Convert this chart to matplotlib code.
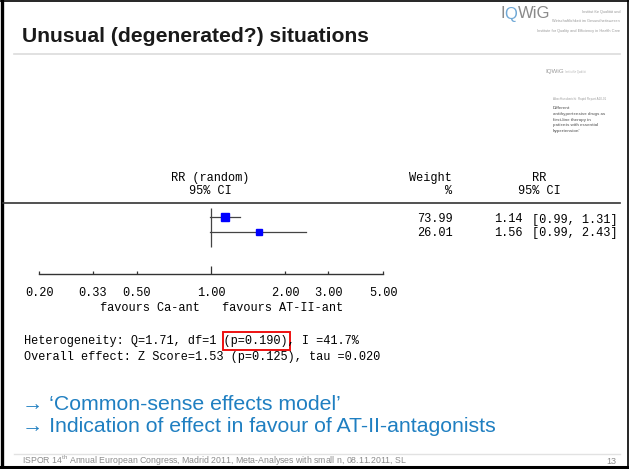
import matplotlib.pyplot as plt
from matplotlib.patches import Rectangle

W, H = 629, 469

# forest plot data (two studies, RR random effects)
weights = [73.99, 26.01]
rr = [1.14, 1.56]
ci_lo = [0.99, 0.99]
ci_hi = [1.31, 2.43]

minor_ticks = [0.20, 0.33, 0.50, 2.00, 3.00, 5.00]
minor_labels = ["0.20", "0.33", "0.50", "2.00", "3.00", "5.00"]
null_tick = 1.00

het_text = "Heterogeneity: Q=1.71, df=1 (p=0.190), I =41.7%"
overall_text = "Overall effect: Z Score=1.53 (p=0.125), tau =0.020"

title = "Unusual (degenerated?) situations"
bullets = ["\u2192 \u2018Common-sense effects model\u2019",
           "\u2192 Indication of effect in favour of AT-II-antagonists"]
footer = r"ISPOR 14$^{\mathregular{th}}$ Annual European Congress, Madrid 2011, Meta-Analyses with small n, 08.11.2011, SL"
page = "13"

SANS = ["Liberation Sans", "DejaVu Sans"]
MONO = ["Liberation Mono", "DejaVu Sans Mono"]
BLUE = "#1f7fc1"
FS = 8.6  # forest plot font size

fig = plt.figure(figsize=(W / 100, H / 100), dpi=100)

# slide canvas in pixel coordinates
ax = fig.add_axes([0, 0, 1, 1])
ax.set_xlim(0, W)
ax.set_ylim(H, 0)
ax.axis("off")

# slide frame
ax.plot([1.5, 1.5], [0, H], color="black", lw=2.4)
ax.plot([0, W], [0.8, 0.8], color="black", lw=1.2)
ax.plot([0, W], [H - 1.5, H - 1.5], color="black", lw=2.2)
ax.plot([W - 1, W - 1], [0, H], color="black", lw=1.2)

# title + rules
ax.text(22, 36, title, fontsize=15.2, fontweight="bold", family=SANS,
        color="#1a1a1a", va="center", ha="left")
ax.plot([14, 620], [54, 54], color="#dcdcdc", lw=1.2)
ax.plot([14, 620], [454, 454], color="#e2e2e2", lw=1.0)

# IQWiG logo (rough)
ax.text(500, 14, "I", fontsize=12, family=SANS, color="#8a8a8a", va="center")
ax.text(504.5, 14, "Q", fontsize=12, family=SANS, color="#6fa8d6", va="center")
ax.text(517.5, 14, "WiG", fontsize=12, family=SANS, color="#8a8a8a", va="center")
ax.text(620, 12, "Institut f\u00fcr Qualit\u00e4t und", fontsize=2.8, family=SANS,
        color="#9a9a9a", ha="right", va="center")
ax.text(620, 21, "Wirtschaftlichkeit im Gesundheitswesen", fontsize=2.8, family=SANS,
        color="#9a9a9a", ha="right", va="center")
ax.text(620, 31, "Institute for Quality and Efficiency in Health Care", fontsize=2.8,
        family=SANS, color="#9a9a9a", ha="right", va="center")

# report thumbnail (rough)
ax.text(545, 72, "IQWiG", fontsize=4.5, family=SANS, color="#9a9a9a", va="center")
ax.text(565, 72, "Institut f\u00fcr Qualit\u00e4t", fontsize=1.8, family=SANS,
        color="#b0b0b0", va="center")
ax.text(553, 99, "Abschlussbericht  Rapid Report A10-01", fontsize=2.2, family=SANS,
        color="#a0a0a0", va="center")
thumb_lines = ["Different", "antihypertensive drugs as", "first-line therapy in",
               "patients with essential", "hypertension'"]
for i, s in enumerate(thumb_lines):
    ax.text(553, 108 + i * 5.8, s, fontsize=3.1, family=SANS, fontweight="bold",
            color="#7a7a7a", va="center")

# forest plot column headers
ax.text(210, 178, "RR (random)", fontsize=FS, family=MONO, ha="center", va="center")
ax.text(210, 191, "95% CI", fontsize=FS, family=MONO, ha="center", va="center")
ax.text(452, 178, "Weight", fontsize=FS, family=MONO, ha="right", va="center")
ax.text(452, 191, "%", fontsize=FS, family=MONO, ha="right", va="center")
ax.text(539, 178, "RR", fontsize=FS, family=MONO, ha="center", va="center")
ax.text(539, 191, "95% CI", fontsize=FS, family=MONO, ha="center", va="center")
ax.plot([3, 620], [203, 203], color="#333333", lw=1.2)

# right-hand numbers (baseline aligned)
text_rows = [222.5, 236]
for yy, w, r, lo, hi in zip(text_rows, weights, rr, ci_lo, ci_hi):
    ax.text(453, yy, f"{w:.2f}", fontsize=FS, family=MONO, ha="right", va="baseline")
    ax.text(494, yy, f"{r:.2f}", fontsize=FS, family=MONO, ha="left", va="baseline")
    ax.text(618, yy, f"[{lo:.2f}, {hi:.2f}]", fontsize=FS, family=MONO,
            ha="right", va="baseline")

# forest plot axes (log scale)
x0, x1, ytop, ybot = 39, 383, 203, 274
fx = fig.add_axes([x0 / W, 1 - ybot / H, (x1 - x0) / W, (ybot - ytop) / H])
fx.set_facecolor("none")
fx.set_xscale("log")
fx.set_xlim(minor_ticks[0], minor_ticks[-1])
fx.set_ylim(3.68, -0.9)
for s in ["left", "right", "top"]:
    fx.spines[s].set_visible(False)
fx.spines["bottom"].set_color("#333333")
fx.spines["bottom"].set_linewidth(1.0)
fx.set_yticks([])
fx.set_xticks([null_tick])
fx.set_xticklabels(["1.00"])
fx.set_xticks(minor_ticks, minor=True)
fx.set_xticklabels(minor_labels, minor=True)
fx.tick_params(axis="x", which="major", direction="in", length=5.5, width=0.9,
               color="#333333", pad=9, labelsize=FS)
fx.tick_params(axis="x", which="minor", direction="in", length=2.2, width=0.9,
               color="#333333", pad=9, labelsize=FS)
for lab in fx.get_xticklabels(which="both"):
    lab.set_family(MONO)

fx.vlines(null_tick, -0.58, 1.94, color="#444444", lw=0.9)
for i in range(len(rr)):
    fx.plot([ci_lo[i], ci_hi[i]], [i, i], color="#444444", lw=0.9)
    fx.plot(rr[i], i, marker="s", ms=3.0 + 0.042 * weights[i],
            color="#0000ff", mec="#0000ff", ls="none")

ax.text(150, 308, "favours Ca-ant", fontsize=FS, family=MONO, ha="center", va="center")
ax.text(283, 308, "favours AT-II-ant", fontsize=FS, family=MONO, ha="center", va="center")

# heterogeneity / overall effect
ax.text(24, 341, het_text, fontsize=FS, family=MONO, ha="left", va="center")
ax.text(24, 357, overall_text, fontsize=FS, family=MONO, ha="left", va="center")
ax.add_patch(Rectangle((223, 332), 67, 18, fill=False, edgecolor="#ee1111", lw=1.4))

# bullets
ax.text(22, 404, bullets[0], fontsize=15.3, family=SANS, color=BLUE, va="center")
ax.text(22, 427, bullets[1], fontsize=15.3, family=SANS, color=BLUE, va="center")

# footer
ax.text(22, 461, footer, fontsize=6.3, family=SANS, color="#8c8c8c", va="center")
ax.text(616, 462, page, fontsize=6.5, family=SANS, color="#8c8c8c", va="center", ha="right")

fig.savefig("out.png", dpi=100)
